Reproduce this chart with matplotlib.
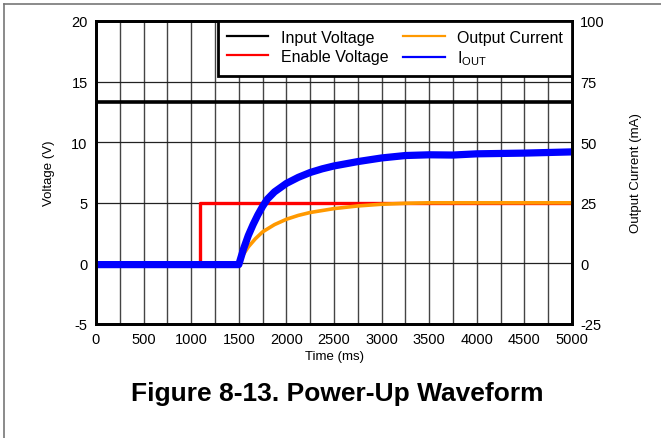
import matplotlib.pyplot as plt
from matplotlib.lines import Line2D

plt.rcParams['font.family'] = ['Liberation Sans', 'DejaVu Sans']
plt.rcParams['mathtext.fontset'] = 'custom'
plt.rcParams['mathtext.rm'] = 'Liberation Sans'
plt.rcParams['axes.unicode_minus'] = False

# time axis (ms) and traces
t_in = [0, 5000]
v_in = [13.35, 13.35]

t_en = [0, 1095, 1095, 5000]
v_en = [0, 0, 5.0, 5.0]

t_out = [0, 1500, 1550, 1600, 1675, 1750, 1875, 2000, 2125, 2250, 2500, 2750, 3000,
         3250, 3500, 5000]
i_out = [0, 0, 3.8, 6.8, 10.2, 13.0, 16.0, 18.2, 19.8, 21.0, 22.6, 23.7, 24.4,
         24.8, 25.0, 25.0]

t_iout = [0, 1500, 1550, 1600, 1650, 1700, 1750, 1800, 1875, 2000, 2125, 2250, 2375,
          2500, 2750, 3000, 3250, 3500, 3750, 4000, 4500, 5000]
i_iout = [-0.5, -0.5, 6.0, 11.5, 16.0, 20.0, 23.5, 26.5, 29.5, 33.0, 35.5, 37.5, 39.0,
          40.2, 42.0, 43.5, 44.5, 44.8, 44.7, 45.2, 45.5, 46.0]

fig = plt.figure(figsize=(6.61, 4.39), dpi=100)
ax = fig.add_axes([0.1452, 0.2597, 0.7202, 0.6902])
ax2 = ax.twinx()

ax.plot(t_in, v_in, color='black', lw=2.6)
ax.plot(t_en, v_en, color='red', lw=2.4)
ax2.plot(t_out, i_out, color='#ff9900', lw=2.6)
ax2.plot(t_iout, i_iout, color='#0000ff', lw=5.2)

ax.set_xlim(0, 5000)
ax.set_ylim(-5, 20)
ax2.set_ylim(-25, 100)
ax.set_xticks(range(0, 5001, 500))
ax.set_xticks(range(0, 5001, 250), minor=True)
ax.set_yticks(range(-5, 21, 5))
ax2.set_yticks(range(-25, 101, 25))
ax.grid(True, which='both', axis='x', color='#444444', lw=1)
ax.grid(True, which='major', axis='y', color='#222222', lw=0.9)
ax.set_axisbelow(True)

for a in (ax, ax2):
    a.tick_params(which='both', length=0, labelsize=10.5, pad=6)
    for s in a.spines.values():
        s.set_linewidth(2)
        s.set_color('black')

ax.set_xlabel('Time (ms)', fontsize=9.5, labelpad=3)
ax.set_ylabel('Voltage (V)', fontsize=9.5, labelpad=12)
ax2.set_ylabel('Output Current (mA)', fontsize=9.5, labelpad=18)

handles = [Line2D([], [], color='black', lw=1.6), Line2D([], [], color='red', lw=1.6),
           Line2D([], [], color='#ff9900', lw=1.6), Line2D([], [], color='#0000ff', lw=1.6)]
labels = ['Input Voltage', 'Enable Voltage', 'Output Current', r'I$_{\mathrm{OUT}}$']
leg = ax2.legend(handles, labels, ncol=2, loc='upper right', bbox_to_anchor=(1, 1),
                 borderaxespad=0, fancybox=False, framealpha=1, fontsize=11.5,
                 handlelength=2.6, handletextpad=0.8, columnspacing=0.9,
                 labelspacing=0.25, borderpad=0.55)
leg.get_frame().set_edgecolor('black')
leg.get_frame().set_linewidth(2)

fig.text(0.51, 0.103, 'Figure 8-13. Power-Up Waveform', ha='center', va='center',
         fontsize=19, fontweight='bold')

# page frame lines (top and left)
fig.add_artist(Line2D([0.006, 1], [0.989, 0.989], color='#777777', lw=1.2))
fig.add_artist(Line2D([0.006, 0.006], [0, 0.989], color='#777777', lw=1.2))

fig.savefig('out.png', dpi=100)
